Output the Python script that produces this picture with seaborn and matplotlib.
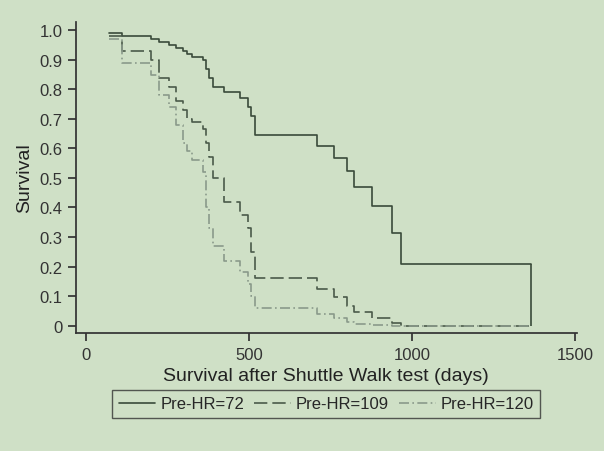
import matplotlib
matplotlib.use("Agg")
import matplotlib.pyplot as plt
import seaborn as sns
import pandas as pd

days = [71, 112, 199, 225, 256, 277, 297, 311, 327, 359, 369, 379, 390, 425, 472, 497, 508, 518, 708, 760, 801, 821, 878, 940, 965, 1366]
surv72 = [0.99, 0.98, 0.97, 0.96, 0.95, 0.94, 0.93, 0.92, 0.91, 0.90, 0.87, 0.84, 0.81, 0.79, 0.77, 0.74, 0.71, 0.647, 0.607, 0.569, 0.522, 0.47, 0.405, 0.314, 0.21, 0.21]
surv109 = [0.98, 0.93, 0.90, 0.84, 0.81, 0.76, 0.73, 0.70, 0.69, 0.665, 0.62, 0.57, 0.50, 0.42, 0.375, 0.33, 0.25, 0.16, 0.125, 0.095, 0.065, 0.045, 0.025, 0.01, 0.0, 0.0]
surv120 = [0.97, 0.89, 0.85, 0.78, 0.74, 0.68, 0.62, 0.59, 0.56, 0.52, 0.40, 0.33, 0.27, 0.22, 0.18, 0.14, 0.10, 0.06, 0.04, 0.025, 0.012, 0.005, 0.003, 0.0, 0.0, 0.0]
labels = ["Pre-HR=72", "Pre-HR=109", "Pre-HR=120"]

bg = "#cfe0c6"
sns.set_theme(style="ticks")
plt.rcParams['font.family'] = ['Liberation Sans', 'DejaVu Sans']
fig, ax = plt.subplots(figsize=(6.04, 4.52), dpi=100)
fig.patch.set_facecolor(bg)
ax.set_facecolor(bg)

df = pd.DataFrame({"days": days * 3, "surv": surv72 + surv109 + surv120,
                   "grp": [labels[0]] * len(days) + [labels[1]] * len(days) + [labels[2]] * len(days)})
styles = {labels[0]: dict(color="#3a4a3a", ls="-", lw=1.2),
          labels[1]: dict(color="#4a5a4a", ls=(0, (8, 3)), lw=1.2),
          labels[2]: dict(color="#8a9a8a", ls=(0, (6, 2, 1, 2)), lw=1.2)}
for g in labels:
    sub = df[df.grp == g]
    ax.step(sub.days, sub.surv, where="post", label=g, **styles[g])
ax.vlines(1366, 0, 0.21, color="#3a4a3a", lw=1.2)

ax.set_xlim(-31, 1505)
ax.set_ylim(-0.027, 1.03)
ax.set_xticks([0, 500, 1000, 1500])
ax.set_yticks([i / 10 for i in range(11)])
ax.set_yticklabels(["0"] + [f"{i/10:.1f}" for i in range(1, 11)])
ax.tick_params(colors="#333333", labelsize=12, length=6)
for s in ["top", "right"]:
    ax.spines[s].set_visible(False)
for s in ["left", "bottom"]:
    ax.spines[s].set_color("#333333")
ax.set_xlabel("Survival after Shuttle Walk test (days)", fontsize=14, color="#222222")
ax.set_ylabel("Survival", fontsize=14, color="#222222")
leg = ax.legend(loc="upper center", bbox_to_anchor=(0.5, -0.17), ncol=3, frameon=True,
                fancybox=False, fontsize=12, handlelength=2.2, columnspacing=0.6,
                handletextpad=0.3, borderaxespad=0.2)
leg.get_frame().set_edgecolor("#333333")
leg.get_frame().set_facecolor(bg)
fig.subplots_adjust(left=0.125, right=0.955, top=0.95, bottom=0.26)
fig.savefig("out.png", facecolor=bg)
